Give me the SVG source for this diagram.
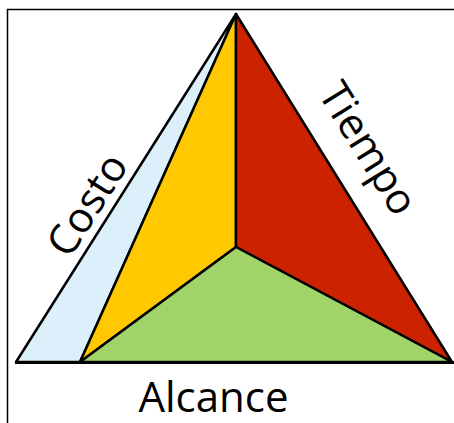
<svg xmlns="http://www.w3.org/2000/svg" width="454" height="423" viewBox="0 0 454 423">
<style>
.f{stroke:#000;stroke-width:2.5;stroke-linejoin:round}
.lbl{font-family:"Open Sans","Liberation Sans",sans-serif;font-size:42px;fill:#000}
.frame{stroke:#000;stroke-width:1.5;fill:none}
</style>
<rect width="454" height="423" fill="#fff"/>
<g id="frame">
<path class="frame" d="M7.5,423 V9.5 H454"/>
</g>
<g id="costo-face"><polygon class="f" fill="#dcf0fc" points="16,362 236,14 80,362"/></g>
<g id="yellow-face"><polygon class="f" fill="#ffc800" points="80,362 236,14 236,247"/></g>
<g id="tiempo-face"><polygon class="f" fill="#cc2200" points="236,14 452,362 236,247"/></g>
<g id="alcance-face"><polygon class="f" fill="#a0d468" points="80,362 236,247 452,362"/></g>
<g id="connectors">
<line x1="15" y1="362.5" x2="454" y2="362.5" stroke="#000" stroke-width="3"/>
</g>
<g id="labels">
<text class="lbl" text-anchor="middle" transform="translate(99.5,212.5) rotate(-57.7)">Costo</text>
<text class="lbl" text-anchor="middle" font-size="44" transform="translate(356,156) rotate(58.2)">Tiempo</text>
<text class="lbl" text-anchor="middle" x="213.5" y="412">Alcance</text>
</g>
</svg>
